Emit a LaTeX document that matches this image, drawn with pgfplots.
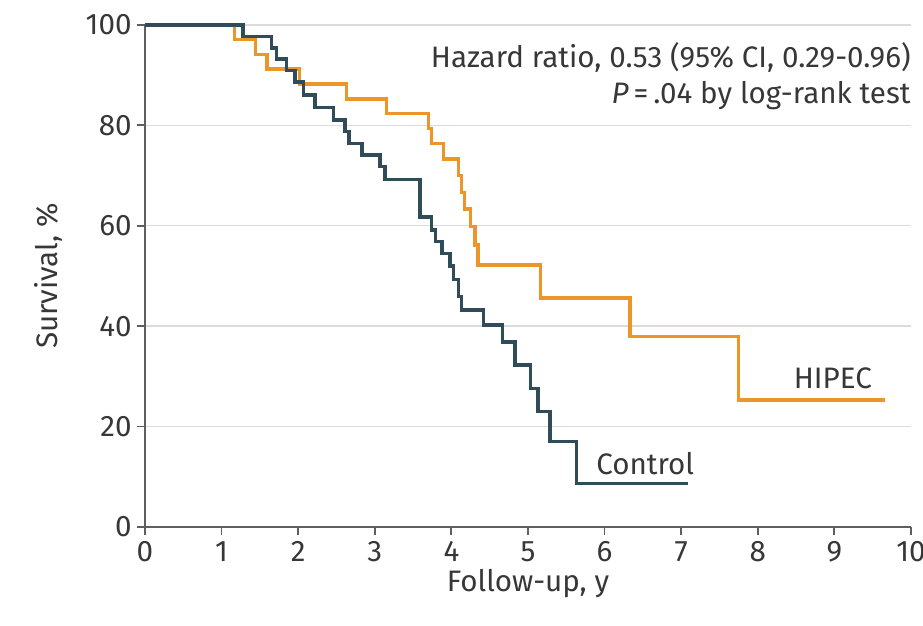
\documentclass[border=0pt]{standalone}
\usepackage{fontspec}
\setmainfont{Fira Sans}
\usepackage{pgfplots}
\pgfplotsset{compat=1.18}

\definecolor{hipec}{RGB}{236,150,42}
\definecolor{ctrl}{RGB}{48,76,88}
\definecolor{txt}{RGB}{55,55,55}
\definecolor{axc}{RGB}{95,95,95}

\newcommand{\lbl}{\fontsize{14.8}{17}\selectfont}

\begin{document}
\begin{tikzpicture}
\begin{axis}[
    scale only axis,
    width=383pt, height=251pt,
    xmin=0, xmax=10, ymin=0, ymax=100,
    clip=false,
    axis lines=left,
    axis line style={-, draw=axc, line width=0.9pt},
    xtick={0,1,...,10},
    ytick={0,20,...,100},
    tick align=outside,
    major tick length=4pt,
    tick style={draw=axc, line width=0.9pt},
    ymajorgrids,
    grid style={draw=black!14, line width=0.7pt},
    /pgf/number format/assume math mode=true,
    tick label style={font=\lbl, text=txt},
    xticklabel style={inner sep=3pt},
    yticklabel style={inner sep=2.5pt},
    xlabel={Follow-up, y},
    ylabel={Survival, \%},
    every axis x label/.style={at={(axis description cs:0.5,-0.113)}, anchor=center, font=\lbl, text=txt},
    every axis y label/.style={at={(axis description cs:-0.1266,0.5)}, rotate=90, anchor=center, font=\lbl, text=txt},
]
% HIPEC
\addplot[const plot, draw=hipec, line width=1.75pt] coordinates {
(0,100) (1.17,97.1) (1.44,94.1) (1.59,91.2) (2.02,88.2) (2.63,85.3)
(3.15,82.4) (3.70,79.4) (3.74,76.4) (3.90,73.3) (4.09,70.0) (4.13,66.6)
(4.17,63.3) (4.25,59.9) (4.31,56.2) (4.35,52.2) (5.16,45.6) (6.33,37.9)
(7.75,25.3) (9.66,25.3)
};
% Control
\addplot[const plot, draw=ctrl, line width=1.75pt] coordinates {
(0,100) (1.28,97.7) (1.65,95.4) (1.72,93.2) (1.85,90.9) (1.96,88.6)
(2.07,86.1) (2.22,83.6) (2.46,81.1) (2.61,78.8) (2.66,76.4) (2.83,74.1)
(3.07,71.8) (3.13,69.2) (3.59,61.8) (3.74,59.2) (3.79,56.9) (3.88,54.5)
(3.98,52.0) (4.03,49.3) (4.09,45.9) (4.13,43.2) (4.42,40.2) (4.67,36.9)
(4.83,32.3) (5.03,27.6) (5.13,23.0) (5.29,17.0) (5.63,8.7) (7.09,8.7)
};
\node[anchor=east, text=txt, font=\lbl, inner sep=0pt]
  at (axis cs:10,93.6) {Hazard ratio, 0.53 (95\% CI, 0.29-0.96)};
\node[anchor=east, text=txt, font=\lbl, inner sep=0pt]
  at (axis cs:10,86.0) {\textit{P}\,=\,.04 by log-rank test};
\node[text=txt, font=\lbl] at (axis cs:8.98,29.7) {HIPEC};
\node[text=txt, font=\lbl] at (axis cs:6.53,12.7) {Control};
\end{axis}
\pgfresetboundingbox
\path[use as bounding box] (-72.5pt,-49.5pt) rectangle (389pt,263.5pt);
\end{tikzpicture}
\end{document}
